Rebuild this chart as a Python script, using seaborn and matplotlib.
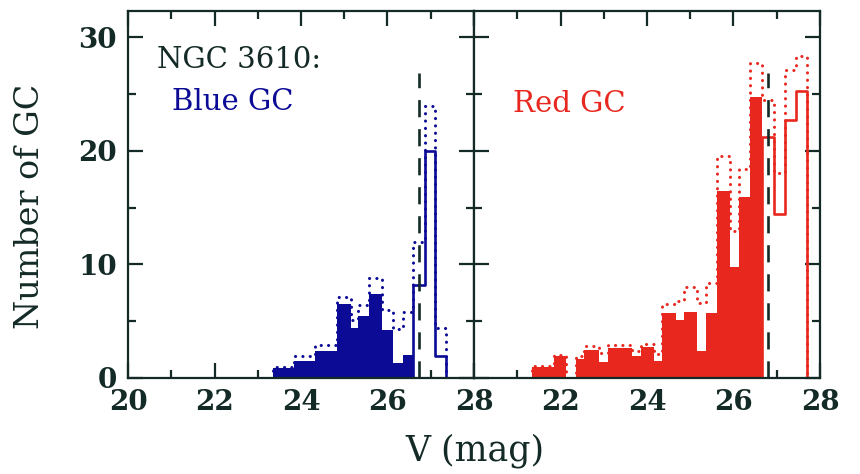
import numpy as np
import pandas as pd
import matplotlib
matplotlib.use("Agg")
import matplotlib.pyplot as plt
from matplotlib.ticker import MultipleLocator, FuncFormatter
import seaborn as sns

# ---- NGC 3610 globular-cluster luminosity functions (V band) ----
# bin edges in mag, observed counts, completeness-corrected counts
blue_edges = [23.35, 23.83, 24.33, 24.84, 25.15, 25.32, 25.57, 25.87, 26.13,
              26.35, 26.59, 26.86, 27.10, 27.35]
blue_counts = [0.9, 1.5, 2.4, 6.5, 4.4, 5.5, 7.4, 4.2, 1.3, 2.0, 8.2, 20.0, 1.9]
blue_corrected = [1.0, 1.9, 2.9, 7.1, 5.1, 6.4, 8.8, 6.0, 4.3, 5.8, 12.0, 23.9, 4.4]
blue_n_bright = 10          # bins brighter than the fitting limit (filled)
blue_limit = 26.73          # completeness limit, mag

red_edges = [21.34, 21.85, 22.13, 22.35, 22.55, 22.90, 23.10, 23.35, 23.66,
             23.86, 24.16, 24.35, 24.66, 24.85, 25.16, 25.37, 25.62, 25.93,
             26.12, 26.37, 26.66, 26.93, 27.20, 27.44, 27.70]
red_counts = [1.0, 1.95, 0.0, 1.65, 2.5, 1.45, 2.6, 2.6, 1.9, 2.75, 1.5, 5.7,
              5.1, 5.8, 2.4, 5.7, 16.5, 9.8, 15.9, 24.7, 21.2, 14.4, 22.7, 25.3]
red_corrected = [1.1, 2.05, 0.0, 1.95, 2.85, 2.2, 2.9, 2.9, 2.4, 3.0, 2.1, 6.55,
                 6.8, 8.0, 6.6, 8.4, 19.5, 12.9, 18.4, 27.75, 24.5, 18.0, 27.1, 28.3]
red_n_bright = 20
red_limit = 26.80

limit_height = 26.8
x_range = (20, 28)
y_range = (0, 32.3)

INK = "#132a26"
BLUE = "#0b0b96"
RED = "#e8281f"
FONT = ["DejaVu Serif"]

sns.set_style("ticks")
plt.rcParams["font.family"] = FONT
plt.rcParams["axes.linewidth"] = 1.6
plt.rcParams["axes.edgecolor"] = INK


def padded(edges, counts):
    """Add a hair-thin empty bin on each side so outlines close at zero."""
    e = [edges[0] - 1e-3] + list(edges) + [edges[-1] + 1e-3]
    c = [0.0] + list(counts) + [0.0]
    return e, c


def hist_frame(edges, counts):
    e = np.asarray(edges, float)
    return pd.DataFrame({"V": (e[:-1] + e[1:]) / 2, "N": list(counts)})


def draw_panel(ax, edges, counts, corrected, n_bright, limit, color):
    # completeness-corrected counts: dotted outline
    pe, pc = padded(edges, corrected)
    sns.histplot(data=hist_frame(pe, pc), x="V", weights="N", bins=pe,
                 element="step", fill=False, color=color, linewidth=2.2,
                 linestyle=(0, (0.05, 2.35)), dash_capstyle="round",
                 ax=ax, zorder=1)

    # bright bins: solid filled histogram
    be = list(edges[:n_bright + 1])
    sns.histplot(data=hist_frame(be, counts[:n_bright]), x="V", weights="N",
                 bins=be, element="step", fill=True, color=color, alpha=1,
                 linewidth=0, ax=ax, zorder=2)

    # faint bins: open histogram
    fe, fc = padded(edges[n_bright:], counts[n_bright:])
    sns.histplot(data=hist_frame(fe, fc), x="V", weights="N", bins=fe,
                 element="step", fill=False, color=color, linewidth=1.9,
                 ax=ax, zorder=3)

    # completeness limit
    ax.vlines(limit, 0, limit_height, colors=INK, linewidth=1.9,
              linestyles=(0, (6.5, 4.5)), zorder=4)


fig = plt.figure(figsize=(8.6, 4.74), dpi=100)
ax_b = fig.add_axes([128 / 860, 96 / 474, 346 / 860, 367 / 474])
ax_r = fig.add_axes([474 / 860, 96 / 474, 346 / 860, 367 / 474])

draw_panel(ax_b, blue_edges, blue_counts, blue_corrected, blue_n_bright, blue_limit, BLUE)
draw_panel(ax_r, red_edges, red_counts, red_corrected, red_n_bright, red_limit, RED)

for ax in (ax_b, ax_r):
    ax.set_xlim(*x_range)
    ax.set_ylim(*y_range)
    ax.set_xlabel("")
    ax.set_ylabel("")
    ax.xaxis.set_major_locator(MultipleLocator(2))
    ax.xaxis.set_minor_locator(MultipleLocator(1))
    ax.yaxis.set_major_locator(MultipleLocator(10))
    ax.yaxis.set_minor_locator(MultipleLocator(5))
    ax.tick_params(which="both", direction="in", top=True, right=True,
                   width=1.6, color=INK, labelsize=20, labelcolor=INK)
    ax.tick_params(which="major", length=11, pad=8)
    ax.tick_params(which="minor", length=5.5)
    for sp in ax.spines.values():
        sp.set_zorder(5)
    for lab in ax.get_xticklabels() + ax.get_yticklabels():
        lab.set_fontweight("bold")

ax_b.xaxis.set_major_formatter(FuncFormatter(lambda v, p: f"{v:.0f}"))
ax_r.xaxis.set_major_formatter(FuncFormatter(lambda v, p: "" if v <= x_range[0] else f"{v:.0f}"))
ax_r.tick_params(labelleft=False)

ax_b.text(20.67, 27.3, "NGC 3610:", color=INK, fontsize=21,
          va="baseline", ha="left")
ax_b.text(21.02, 23.6, "Blue GC", color=BLUE, fontsize=21,
          va="baseline", ha="left")
ax_r.text(20.9, 23.4, "Red GC", color=RED, fontsize=21,
          va="baseline", ha="left")

fig.text(30 / 860, 1 - 206 / 474, "Number of GC", rotation=90, ha="center",
         va="center", fontsize=24, color=INK)
fig.text(475 / 860, 1 - 451 / 474, "V (mag)", ha="center", va="center",
         fontsize=25, color=INK)

fig.savefig("out.png", dpi=100)
